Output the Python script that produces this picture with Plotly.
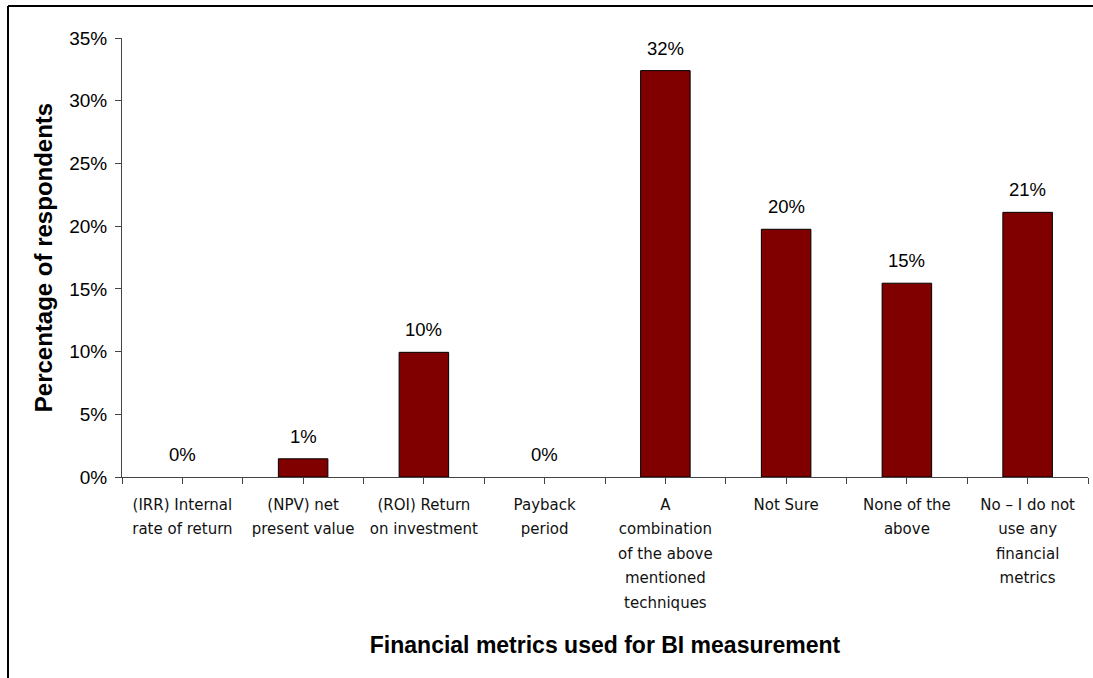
import plotly.graph_objects as go

# ---- data ----
category_lines = [
    ["(IRR) Internal", "rate of return"],
    ["(NPV) net", "present value"],
    ["(ROI) Return", "on investment"],
    ["Payback", "period"],
    ["A", "combination", "of the above", "mentioned", "techniques"],
    ["Not Sure"],
    ["None of the", "above"],
    ["No \u2013 I do not", "use any", "financial", "metrics"],
]
categories = [" ".join(l) for l in category_lines]
values = [0, 1.45, 9.94, 0, 32.4, 19.75, 15.45, 21.1]
y_ticks = [0, 5, 10, 15, 20, 25, 30, 35]

# ---- layout constants ----
W, H = 1093, 678
ML, MR, MT, MB = 122, 5, 38, 201
PW, PH = W - ML - MR, H - MT - MB

BAR = "#800000"
AX = "#444444"

tick_text = [
    "<br>".join(f"<span style='font-size:15px'>{s}</span>" for s in lines)
    for lines in category_lines
]

fig = go.Figure()
fig.add_trace(go.Bar(
    x=categories, y=values,
    marker=dict(color=BAR,
                line=dict(color="black", width=[0 if v == 0 else 1 for v in values])),
    hoverinfo="skip",
))
# invisible helper for center ticks
fig.add_trace(go.Scatter(x=list(range(len(categories))), y=[0]*len(categories),
                         xaxis="x2", mode="markers", marker=dict(opacity=0),
                         hoverinfo="skip", showlegend=False))

for c, v in zip(categories, values):
    fig.add_annotation(x=c, y=v, text=f"{v:.0f}%", showarrow=False,
                       yanchor="bottom", yshift=10,
                       font=dict(family="Liberation Sans, Arial", size=18.5, color="black"))

fig.update_layout(
    width=W, height=H,
    margin=dict(l=ML, r=MR, t=MT, b=MB),
    paper_bgcolor="white", plot_bgcolor="white",
    showlegend=False,
    bargap=0.59,
    xaxis=dict(
        type="category",
        tickmode="array", tickvals=categories, ticktext=tick_text,
        tickson="boundaries",
        ticks="outside", ticklen=6, tickcolor=AX, tickwidth=1,
        showline=True, linecolor=AX, linewidth=1,
        showgrid=False, zeroline=False,
        tickfont=dict(family="DejaVu Sans", size=18.85, color="#111111"),
        tickangle=0, ticklabelstandoff=9,
        title=dict(text="<b>Financial metrics used for BI measurement</b>",
                   font=dict(family="Liberation Sans, Arial", size=23, color="black"),
                   standoff=26),
    ),
    xaxis2=dict(
        overlaying="x", anchor="y", side="bottom",
        range=[-0.5, len(categories) - 0.5],
        tickmode="array", tickvals=list(range(len(categories))),
        showticklabels=False, ticks="outside", ticklen=6, tickcolor=AX,
        showline=False, showgrid=False, zeroline=False,
    ),
    yaxis=dict(
        range=[0, 35], tickmode="array", tickvals=y_ticks,
        ticktext=[f"{t}%" for t in y_ticks],
        ticks="outside", ticklen=6, tickcolor=AX,
        showline=True, linecolor=AX, linewidth=1,
        showgrid=False, zeroline=False,
        tickfont=dict(family="Liberation Sans, Arial", size=19, color="black"),
        ticklabelstandoff=4,
        title=dict(text="<b>Percentage of respondents</b>",
                   font=dict(family="Liberation Sans, Arial", size=24, color="black"),
                   standoff=9),
    ),
)

# frame lines (top and left) like the original picture border
bx = (8 - ML) / PW
ty = 1 + (MT - 6) / PH
fig.add_shape(type="line", xref="paper", yref="paper",
              x0=bx, y0=ty, x1=1 + (MR + 5) / PW, y1=ty,
              line=dict(color="black", width=2))
fig.add_shape(type="line", xref="paper", yref="paper",
              x0=bx, y0=ty, x1=bx, y1=-(MB + 5) / PH,
              line=dict(color="black", width=2))

fig.write_html("out.html")
